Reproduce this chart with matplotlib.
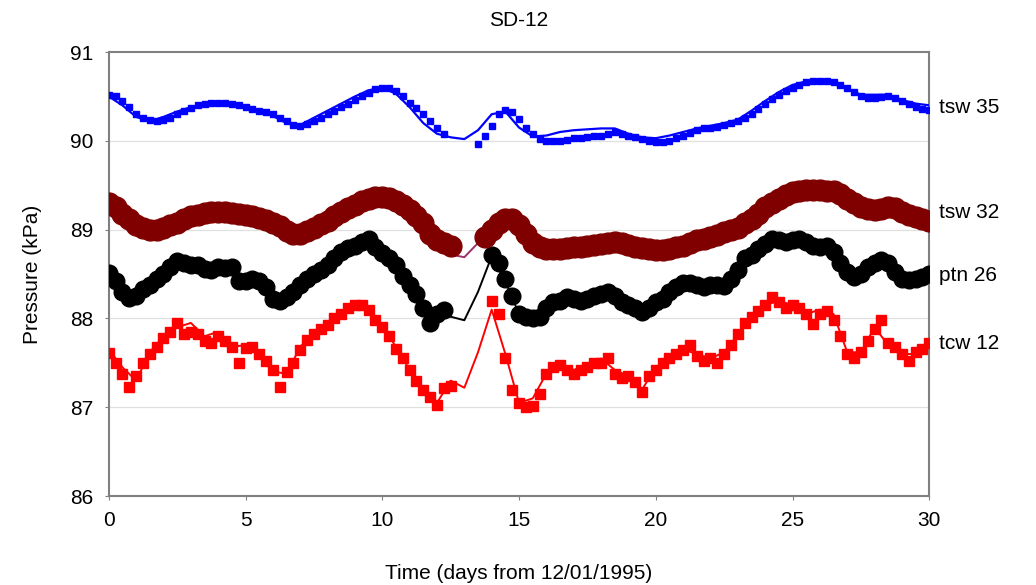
import numpy as np
import matplotlib
matplotlib.use('Agg')
import matplotlib.pyplot as plt

plt.rcParams['font.family'] = ['Liberation Sans', 'DejaVu Sans']

nan = np.nan

# observations every 6 hours (0.25 day), model every 12 hours (0.5 day)
days_obs = np.arange(121) * 0.25
days_mod = np.arange(61) * 0.5

tsw35_obs = [
    90.52, 90.5, 90.45, 90.38, 90.3, 90.26, 90.23, 90.22,
    90.23, 90.26, 90.3, 90.34, 90.37, 90.4, 90.42, 90.43,
    90.43, 90.43, 90.42, 90.4, 90.38, 90.36, 90.34, 90.32,
    90.3, 90.26, 90.22, 90.18, 90.17, 90.19, 90.22, 90.26,
    90.3, 90.34, 90.38, 90.42, 90.46, 90.5, 90.54, 90.58,
    90.6, 90.59, 90.56, 90.5, 90.43, 90.37, 90.3, 90.22,
    90.15, 90.08, nan, nan, nan, nan, 89.97, 90.05,
    90.17, 90.3, 90.35, 90.33, 90.25, 90.15, 90.08, 90.02,
    90.0, 90.0, 90.0, 90.01, 90.03, 90.03, 90.04, 90.05,
    90.06, 90.08, 90.1, 90.08, 90.06, 90.04, 90.02, 90.0,
    89.99, 89.99, 90.0, 90.03, 90.06, 90.09, 90.12, 90.14,
    90.15, 90.16, 90.18, 90.2, 90.22, 90.26, 90.3, 90.36,
    90.42, 90.47, 90.52, 90.56, 90.6, 90.63, 90.66, 90.67,
    90.67, 90.67, 90.66, 90.63, 90.6, 90.55, 90.5, 90.48,
    90.48, 90.49, 90.5, 90.48, 90.45, 90.42, 90.38, 90.36,
    90.35,
]
tsw35_mod = [
    90.5, 90.4, 90.27, 90.22, 90.27, 90.33, 90.38, 90.42, 90.43, 90.42,
    90.38, 90.34, 90.28, 90.2, 90.18, 90.26, 90.34, 90.42, 90.5, 90.57,
    90.6, 90.53, 90.38, 90.2, 90.08, 90.04, 90.02, 90.12, 90.3, 90.33,
    90.15, 90.05, 90.06, 90.1, 90.12, 90.13, 90.14, 90.14, 90.08, 90.04,
    90.03, 90.06, 90.1, 90.14, 90.17, 90.2, 90.24, 90.34, 90.45, 90.55,
    90.63, 90.67, 90.67, 90.66, 90.58, 90.52, 90.52, 90.52, 90.46, 90.42,
    90.4,
]

tsw32_obs = [
    89.3, 89.25, 89.18, 89.12, 89.05, 89.02, 89.0, 89.0,
    89.02, 89.05, 89.08, 89.12, 89.15, 89.17, 89.19, 89.2,
    89.2, 89.2, 89.19, 89.18, 89.17, 89.15, 89.13, 89.11,
    89.08, 89.04, 88.99, 88.95, 88.95, 88.98, 89.02, 89.06,
    89.1, 89.15, 89.2, 89.24, 89.28, 89.32, 89.35, 89.37,
    89.37, 89.36, 89.32, 89.28, 89.22, 89.15, 89.07, 88.95,
    88.88, 88.85, 88.82, nan, nan, nan, nan, 88.92,
    89.0, 89.08, 89.12, 89.12, 89.05, 88.95, 88.85, 88.8,
    88.78, 88.78, 88.78, 88.79, 88.8, 88.81, 88.82, 88.83,
    88.84, 88.85, 88.86, 88.85, 88.83, 88.81, 88.79, 88.78,
    88.77, 88.77, 88.78, 88.8, 88.82, 88.85, 88.88, 88.9,
    88.92, 88.94, 88.97, 89.0, 89.02, 89.07, 89.12, 89.18,
    89.25, 89.3, 89.35, 89.39, 89.42, 89.44, 89.45, 89.45,
    89.45, 89.44, 89.43, 89.4, 89.35, 89.3, 89.25, 89.23,
    89.22, 89.23, 89.25, 89.24, 89.2, 89.17, 89.14, 89.12,
    89.1,
]
tsw32_mod = [
    89.22, 89.05, 88.93, 88.97, 89.02, 89.08, 89.15, 89.19, 89.2, 89.19,
    89.17, 89.13, 89.08, 88.99, 88.95, 89.02, 89.1, 89.2, 89.28, 89.35,
    89.37, 89.32, 89.2, 89.03, 88.85, 88.72, 88.69, 88.85, 89.12, 89.2,
    88.98, 88.78, 88.74, 88.77, 88.8, 88.82, 88.84, 88.86, 88.83, 88.79,
    88.77, 88.78, 88.82, 88.88, 88.92, 88.97, 89.02, 89.12, 89.25, 89.35,
    89.42, 89.45, 89.45, 89.43, 89.33, 89.2, 89.22, 89.25, 89.2, 89.14,
    89.1,
]

ptn26_obs = [
    88.51, 88.42, 88.3, 88.23, 88.25, 88.33, 88.38, 88.44,
    88.5, 88.58, 88.65, 88.62, 88.6, 88.6, 88.56, 88.55,
    88.58, 88.57, 88.58, 88.42, 88.42, 88.45, 88.42, 88.35,
    88.22, 88.2, 88.24, 88.3, 88.38, 88.44, 88.5, 88.55,
    88.6, 88.68, 88.75, 88.79, 88.82, 88.86, 88.9, 88.8,
    88.74, 88.68, 88.6, 88.48, 88.38, 88.27, 88.12, 87.95,
    88.05, 88.1, nan, nan, nan, nan, nan, nan,
    88.72, 88.62, 88.45, 88.25, 88.05, 88.02, 88.0, 88.02,
    88.12, 88.18, 88.2, 88.24, 88.22, 88.2, 88.22, 88.25,
    88.28, 88.3, 88.25, 88.18, 88.15, 88.12, 88.07, 88.12,
    88.18, 88.22, 88.3, 88.36, 88.4, 88.4, 88.38, 88.36,
    88.38, 88.38, 88.37, 88.45, 88.55, 88.68, 88.72, 88.78,
    88.84, 88.9, 88.88, 88.86, 88.88, 88.9, 88.86, 88.82,
    88.8, 88.82, 88.75, 88.62, 88.52, 88.47, 88.5, 88.58,
    88.63, 88.66, 88.62, 88.52, 88.45, 88.43, 88.45, 88.47,
    88.5,
]
ptn26_mod = [
    88.5, 88.3, 88.25, 88.38, 88.5, 88.63, 88.6, 88.56, 88.57, 88.55,
    88.43, 88.4, 88.22, 88.25, 88.38, 88.5, 88.6, 88.74, 88.82, 88.87,
    88.74, 88.58, 88.38, 88.12, 88.0, 88.02, 87.98, 88.3, 88.7, 88.42,
    88.05, 88.0, 88.12, 88.2, 88.22, 88.22, 88.28, 88.25, 88.15, 88.08,
    88.18, 88.3, 88.4, 88.38, 88.38, 88.38, 88.55, 88.72, 88.84, 88.88,
    88.88, 88.86, 88.8, 88.74, 88.52, 88.5, 88.63, 88.6, 88.45, 88.45,
    88.5,
]

tcw12_obs = [
    87.61, 87.5, 87.38, 87.23, 87.35, 87.5, 87.6, 87.68,
    87.78, 87.85, 87.95, 87.82, 87.85, 87.83, 87.75, 87.72,
    87.8, 87.75, 87.68, 87.5, 87.67, 87.68, 87.6, 87.52,
    87.42, 87.23, 87.4, 87.5, 87.65, 87.76, 87.82, 87.88,
    87.93, 88.0, 88.05, 88.12, 88.15, 88.15, 88.1, 87.98,
    87.9, 87.8, 87.66, 87.55, 87.42, 87.3, 87.2, 87.12,
    87.03, 87.22, 87.24, nan, nan, nan, nan, nan,
    88.2, 88.05, 87.55, 87.2, 87.05, 87.0, 87.02, 87.15,
    87.38, 87.45, 87.48, 87.42, 87.38, 87.42, 87.45, 87.5,
    87.5, 87.56, 87.38, 87.33, 87.35, 87.28, 87.17, 87.35,
    87.42, 87.5, 87.55, 87.6, 87.65, 87.7, 87.58, 87.52,
    87.55, 87.5, 87.6, 87.7, 87.82, 87.95, 88.02, 88.08,
    88.15, 88.24, 88.18, 88.12, 88.15, 88.12, 88.05, 87.94,
    88.05, 88.08, 87.98, 87.8, 87.6, 87.56, 87.62, 87.75,
    87.88, 87.98, 87.72, 87.68, 87.6, 87.52, 87.62, 87.66,
    87.72,
]
tcw12_mod = [
    87.65, 87.45, 87.3, 87.62, 87.8, 87.9, 87.95, 87.8, 87.85, 87.68,
    87.7, 87.58, 87.4, 87.38, 87.68, 87.85, 87.95, 88.05, 88.15, 88.1,
    87.92, 87.68, 87.42, 87.2, 87.05, 87.3, 87.22, 87.62, 88.1, 87.6,
    87.05, 87.1, 87.38, 87.5, 87.42, 87.48, 87.55, 87.42, 87.35, 87.2,
    87.45, 87.55, 87.65, 87.6, 87.55, 87.62, 87.82, 88.02, 88.15, 88.2,
    88.15, 88.05, 88.1, 88.05, 87.62, 87.62, 87.9, 87.7, 87.6, 87.6,
    87.7,
]

station_names = ['tsw 35', 'tsw 32', 'ptn 26', 'tcw 12']
label_y = [90.38, 89.19, 88.48, 87.72]

fig = plt.figure(figsize=(10.36, 5.85), dpi=100)
ax = fig.add_axes([0.105, 0.152, 0.792, 0.759])

for y in [87, 88, 89, 90]:
    ax.axhline(y, color='#e0e0e0', linewidth=0.9, zorder=0)

# tcw 12
ax.plot(days_mod, tcw12_mod, '-', color='#ff0000', linewidth=1.4, zorder=2)
ax.plot(days_obs, tcw12_obs, 's', color='#ff0000', markersize=7.5, zorder=3)
# ptn 26
ax.plot(days_mod, ptn26_mod, '-', color='black', linewidth=1.4, zorder=4)
ax.plot(days_obs, ptn26_obs, 'o', color='black', markersize=12, zorder=5)
# tsw 32
ax.plot(days_mod, tsw32_mod, '-', color='#993366', linewidth=1.4, zorder=6)
ax.plot(days_obs, tsw32_obs, 'o', color='#800000', markersize=15, zorder=7)
# tsw 35
ax.plot(days_obs, tsw35_obs, 's', color='#0000ff', markersize=4.5, zorder=8)
ax.plot(days_mod, tsw35_mod, '-', color='#0000ff', linewidth=1.6, zorder=9)

for name, y in zip(station_names, label_y):
    ax.text(30.35, y, name, fontsize=15, va='center', ha='left', clip_on=False)

ax.set_xlim(0, 30)
ax.set_ylim(86, 91)
ax.set_xticks(np.arange(0, 31, 5))
ax.set_yticks(np.arange(86, 92, 1))
ax.tick_params(axis='both', labelsize=15, length=3, color='#808080', pad=8)
for side in ['left', 'bottom', 'top', 'right']:
    ax.spines[side].set_color('#808080')
    ax.spines[side].set_linewidth(1.5)

ax.set_title('SD-12', fontsize=15, pad=19)
ax.set_xlabel('Time (days from 12/01/1995)', fontsize=15, labelpad=24)
ax.set_ylabel('Pressure (kPa)', fontsize=15, labelpad=20)

fig.savefig('out.png', dpi=100)
plt.close(fig)
